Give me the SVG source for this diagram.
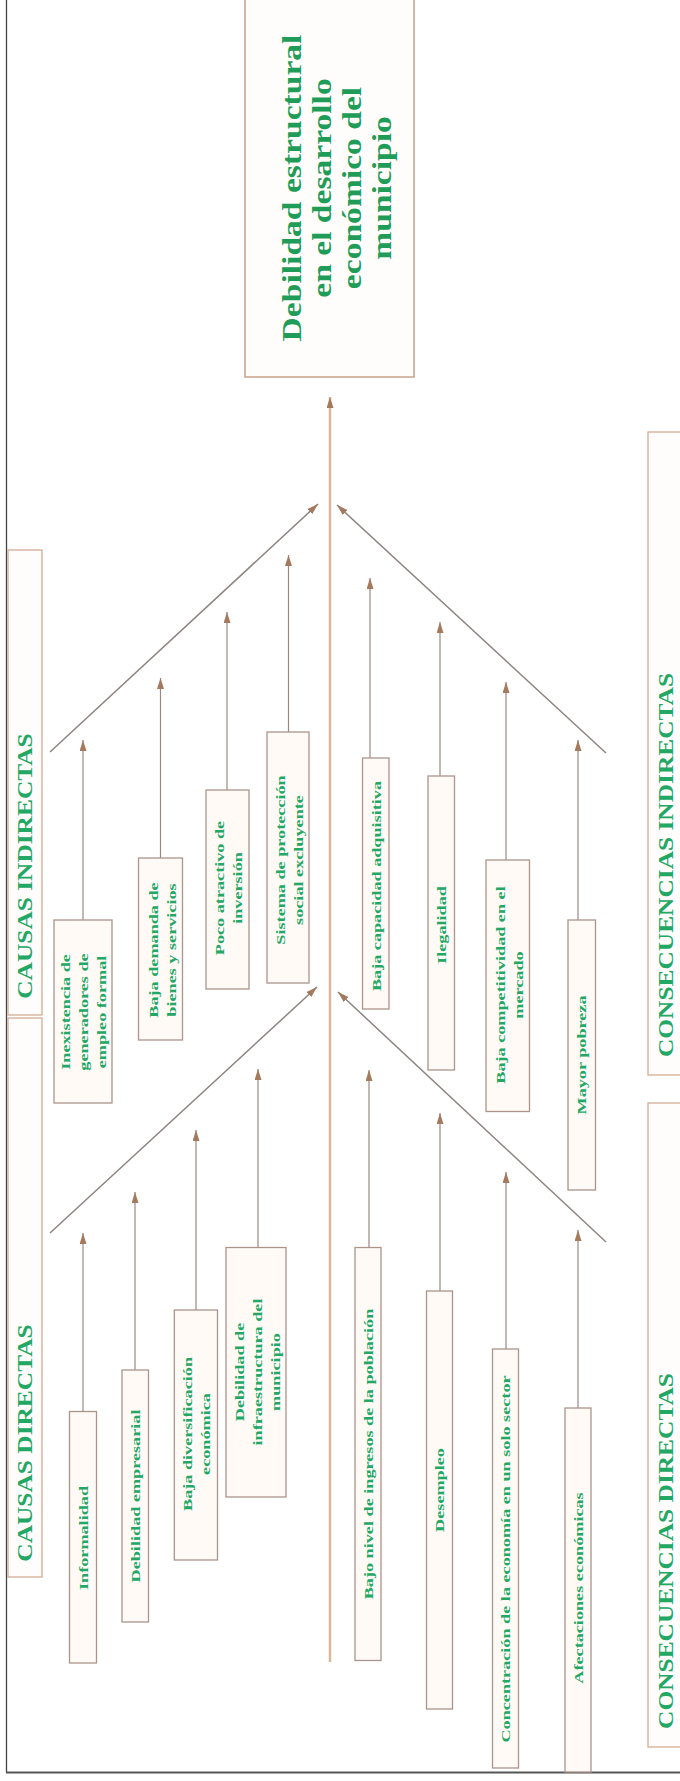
<svg xmlns="http://www.w3.org/2000/svg" width="680" height="1781" viewBox="0 0 680 1781">
<style>
.bx{fill:#fffaf6;stroke:#ab948a;stroke-width:1.3}
.hd{fill:#fffdfb;stroke:#d4ad94;stroke-width:1.3}
.t{font-family:"Liberation Serif","Times New Roman",serif;font-weight:bold;fill:#22a764;text-anchor:middle;dominant-baseline:central}
.s{font-size:13px}
.h{font-size:22px}
.m{font-size:28px;fill:#1f9c58}
.c{stroke:#9c8880;stroke-width:1.2;fill:none}
.d{stroke:#8e8480;stroke-width:1.5;fill:none}
.sp{stroke:#ddb69e;stroke-width:2.5;fill:none}
</style>
<defs>
<marker id="ah" markerUnits="userSpaceOnUse" markerWidth="12" markerHeight="8" refX="11" refY="3.5" orient="auto">
<path d="M0,0 L11,3.5 L0,7 z" fill="#a47a5e"/>
</marker>
</defs>
<g id="frame">
<line x1="6.5" y1="0" x2="6.5" y2="1772.5" stroke="#444" stroke-width="1.3"/>
<line x1="6" y1="1772.5" x2="680" y2="1772.5" stroke="#555" stroke-width="1.8"/>
</g>
<g id="connectors">
<line class="sp" x1="330" y1="1662" x2="330" y2="397" marker-end="url(#ah)"/>
<line class="d" x1="50" y1="752" x2="318" y2="504" marker-end="url(#ah)"/>
<line class="d" x1="606" y1="753" x2="337" y2="505" marker-end="url(#ah)"/>
<line class="d" x1="50" y1="1233" x2="317" y2="987" marker-end="url(#ah)"/>
<line class="d" x1="606" y1="1242" x2="338" y2="992" marker-end="url(#ah)"/>
<line class="c" x1="83" y1="920" x2="83" y2="740" marker-end="url(#ah)"/>
<line class="c" x1="160.5" y1="858" x2="160.5" y2="678" marker-end="url(#ah)"/>
<line class="c" x1="227" y1="790" x2="227" y2="612" marker-end="url(#ah)"/>
<line class="c" x1="288.5" y1="732" x2="288.5" y2="555" marker-end="url(#ah)"/>
<line class="c" x1="370" y1="758" x2="370" y2="578" marker-end="url(#ah)"/>
<line class="c" x1="440" y1="776" x2="440" y2="622" marker-end="url(#ah)"/>
<line class="c" x1="506" y1="860" x2="506" y2="682" marker-end="url(#ah)"/>
<line class="c" x1="578" y1="920" x2="578" y2="740" marker-end="url(#ah)"/>
<line class="c" x1="83" y1="1411" x2="83" y2="1233" marker-end="url(#ah)"/>
<line class="c" x1="135" y1="1370" x2="135" y2="1192" marker-end="url(#ah)"/>
<line class="c" x1="196" y1="1310" x2="196" y2="1130" marker-end="url(#ah)"/>
<line class="c" x1="258" y1="1247" x2="258" y2="1069" marker-end="url(#ah)"/>
<line class="c" x1="369" y1="1247" x2="369" y2="1070" marker-end="url(#ah)"/>
<line class="c" x1="440" y1="1291" x2="440" y2="1113" marker-end="url(#ah)"/>
<line class="c" x1="506" y1="1349" x2="506" y2="1172" marker-end="url(#ah)"/>
<line class="c" x1="578" y1="1408" x2="578" y2="1230" marker-end="url(#ah)"/>
</g>
<g id="problema">
<rect x="245" y="-2" width="169" height="379" fill="#fffdfb" stroke="#c7a08a" stroke-width="1.5"/>
<g transform="translate(336,188) rotate(-90) scale(1.2,1)">
<text class="t m" x="0" y="-45">Debilidad estructural</text>
<text class="t m" x="0" y="-15">en el desarrollo</text>
<text class="t m" x="0" y="15">económico del</text>
<text class="t m" x="0" y="45">municipio</text>
</g>
</g>
<g id="h-causas-indirectas">
<rect class="hd" x="8" y="550" width="34" height="465"/>
<text class="t h" transform="translate(25,866) rotate(-90) scale(1.155,1)">CAUSAS INDIRECTAS</text>
</g>
<g id="h-causas-directas">
<rect class="hd" x="8" y="1018" width="34" height="559"/>
<text class="t h" transform="translate(25,1443) rotate(-90) scale(1.155,1)">CAUSAS DIRECTAS</text>
</g>
<g id="h-consecuencias-indirectas">
<rect class="hd" x="648" y="432" width="40" height="643"/>
<text class="t h" transform="translate(665.5,865) rotate(-90) scale(1.155,1)">CONSECUENCIAS INDIRECTAS</text>
</g>
<g id="h-consecuencias-directas">
<rect class="hd" x="648" y="1103" width="40" height="644"/>
<text class="t h" transform="translate(665.5,1551) rotate(-90) scale(1.155,1)">CONSECUENCIAS DIRECTAS</text>
</g>
<g id="n1">
<rect class="bx" x="54" y="920" width="58" height="183"/>
<g transform="translate(83.5,1012) rotate(-90) scale(1.4,1)">
<text class="t s" x="0" y="-18">Inexistencia de</text>
<text class="t s" x="0" y="0">generadores de</text>
<text class="t s" x="0" y="18">empleo formal</text>
</g>
</g>
<g id="n2">
<rect class="bx" x="138.5" y="858" width="44" height="182"/>
<g transform="translate(162,950) rotate(-90) scale(1.4,1)">
<text class="t s" x="0" y="-9">Baja demanda de</text>
<text class="t s" x="0" y="9">bienes y servicios</text>
</g>
</g>
<g id="n3">
<rect class="bx" x="206" y="790" width="43" height="199"/>
<g transform="translate(228.5,888) rotate(-90) scale(1.4,1)">
<text class="t s" x="0" y="-9">Poco atractivo de</text>
<text class="t s" x="0" y="9">inversión</text>
</g>
</g>
<g id="n4">
<rect class="bx" x="267" y="732" width="42" height="251"/>
<g transform="translate(289.5,860) rotate(-90) scale(1.4,1)">
<text class="t s" x="0" y="-9">Sistema de protección</text>
<text class="t s" x="0" y="9">social excluyente</text>
</g>
</g>
<g id="n5">
<rect class="bx" x="362.5" y="758" width="26.5" height="251"/>
<text class="t s" transform="translate(376,886) rotate(-90) scale(1.4,1)">Baja capacidad adquisitiva</text>
</g>
<g id="n6">
<rect class="bx" x="428" y="776" width="26.5" height="294"/>
<text class="t s" transform="translate(441.5,925) rotate(-90) scale(1.4,1)">Ilegalidad</text>
</g>
<g id="n7">
<rect class="bx" x="486" y="860" width="43.5" height="251.5"/>
<g transform="translate(509,985) rotate(-90) scale(1.4,1)">
<text class="t s" x="0" y="-9">Baja competitividad en el</text>
<text class="t s" x="0" y="9">mercado</text>
</g>
</g>
<g id="n8">
<rect class="bx" x="568" y="920" width="27.5" height="270"/>
<text class="t s" transform="translate(581.7,1055) rotate(-90) scale(1.4,1)">Mayor pobreza</text>
</g>
<g id="n9">
<rect class="bx" x="69.5" y="1411.5" width="27" height="251.5"/>
<text class="t s" transform="translate(83,1538) rotate(-90) scale(1.4,1)">Informalidad</text>
</g>
<g id="n10">
<rect class="bx" x="122" y="1370" width="26.5" height="252"/>
<text class="t s" transform="translate(135.3,1496) rotate(-90) scale(1.4,1)">Debilidad empresarial</text>
</g>
<g id="n11">
<rect class="bx" x="174.3" y="1310" width="43.2" height="250"/>
<g transform="translate(196,1434) rotate(-90) scale(1.4,1)">
<text class="t s" x="0" y="-9">Baja diversificación</text>
<text class="t s" x="0" y="9">económica</text>
</g>
</g>
<g id="n12">
<rect class="bx" x="226" y="1247.5" width="60" height="249.5"/>
<g transform="translate(257,1372) rotate(-90) scale(1.4,1)">
<text class="t s" x="0" y="-18">Debilidad de</text>
<text class="t s" x="0" y="0">infraestructura del</text>
<text class="t s" x="0" y="18">municipio</text>
</g>
</g>
<g id="n13">
<rect class="bx" x="355" y="1247.5" width="26" height="413"/>
<text class="t s" transform="translate(368,1454) rotate(-90) scale(1.4,1)">Bajo nivel de ingresos de la población</text>
</g>
<g id="n14">
<rect class="bx" x="426.5" y="1291" width="26" height="418"/>
<text class="t s" transform="translate(439.5,1490) rotate(-90) scale(1.4,1)">Desempleo</text>
</g>
<g id="n15">
<rect class="bx" x="492.5" y="1349" width="26" height="419"/>
<text class="t s" transform="translate(505.5,1559) rotate(-90) scale(1.4,1)">Concentración de la economía en un solo sector</text>
</g>
<g id="n16">
<rect class="bx" x="565" y="1408" width="26" height="364"/>
<text class="t s" transform="translate(578,1588) rotate(-90) scale(1.4,1)">Afectaciones económicas</text>
</g>
</svg>
